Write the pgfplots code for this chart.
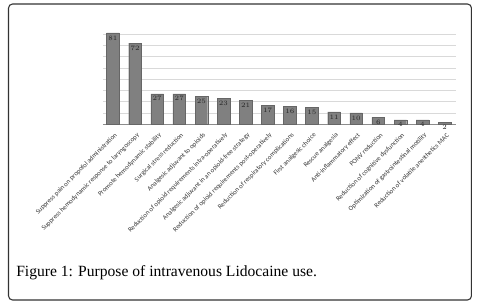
\documentclass[border=0pt]{standalone}
\usepackage{fontspec}
\setmainfont{Liberation Serif}
\newfontfamily\chartfont{Carlito}
\usepackage{pgfplots}
\pgfplotsset{compat=1.18}
\begin{document}
\begin{tikzpicture}
\path[use as bounding box] (0pt,0pt) rectangle (360pt,228pt);
\draw[line width=0.8pt, draw=black!80, rounded corners=3pt] (6.4pt,3pt) rectangle (353.6pt,225pt);
\begin{axis}[
  at={(77.25pt,134.8pt)}, anchor=south west,
  scale only axis, width=264.5pt, height=69.4pt,
  ymin=0, ymax=82, xmin=-0.45, xmax=15.5,
  ybar, bar width=9.5pt,
  axis x line*=bottom, axis y line*=left,
  y axis line style={draw=none},
  x axis line style={draw=black!45, line width=0.6pt},
  ytick={10,20,...,80}, yticklabels={}, ytick style={draw=none},
  ymajorgrids, major grid style={draw=black!15, line width=0.5pt},
  xtick={0,...,15}, xtick style={draw=none},
  xticklabels={Suppress pain on propofol administration,
    Suppress hemodynamic response to laryngoscopy,
    Promote hemodynamic stability,
    Surgical stress reduction,
    Analgesic adjuvant to opioids,
    Reduction of opioid requirements intra-operatively,
    Analgesic adjuvant in an opioid-free strategy,
    Reduction of opioid requirements post-operatively,
    Reduction of respiratory complications,
    First analgesic choice,
    Rescue analgesia,
    Anti-inflammatory effect,
    PONV reduction,
    Reduction of cognitive dysfunction,
    Optimization of gastrointestinal motility,
    Reduction of volatile anesthetics MAC},
  xticklabel style={rotate=45, anchor=east, font=\chartfont\fontsize{5}{5.5}\selectfont, inner sep=0.5pt, yshift=-4pt, text=black!80},
  nodes near coords,
  nodes near coords style={anchor=north, font=\chartfont\fontsize{4}{4.5}\selectfont, text=black!85, inner sep=2pt},
  clip=false,
]
\addplot[fill=black!50, draw=black!60, line width=0.3pt] coordinates {
 (0,81) (1,72) (2,27) (3,27) (4,25) (5,23) (6,21) (7,17)
 (8,16) (9,15) (10,11) (11,10) (12,6) (13,4) (14,4) (15,2)};
\end{axis}
\node[anchor=base west, inner sep=0pt, font=\fontsize{11.7}{14}\selectfont] at (12pt,20.5pt) {Figure 1: Purpose of intravenous Lidocaine use.};
\end{tikzpicture}
\end{document}
